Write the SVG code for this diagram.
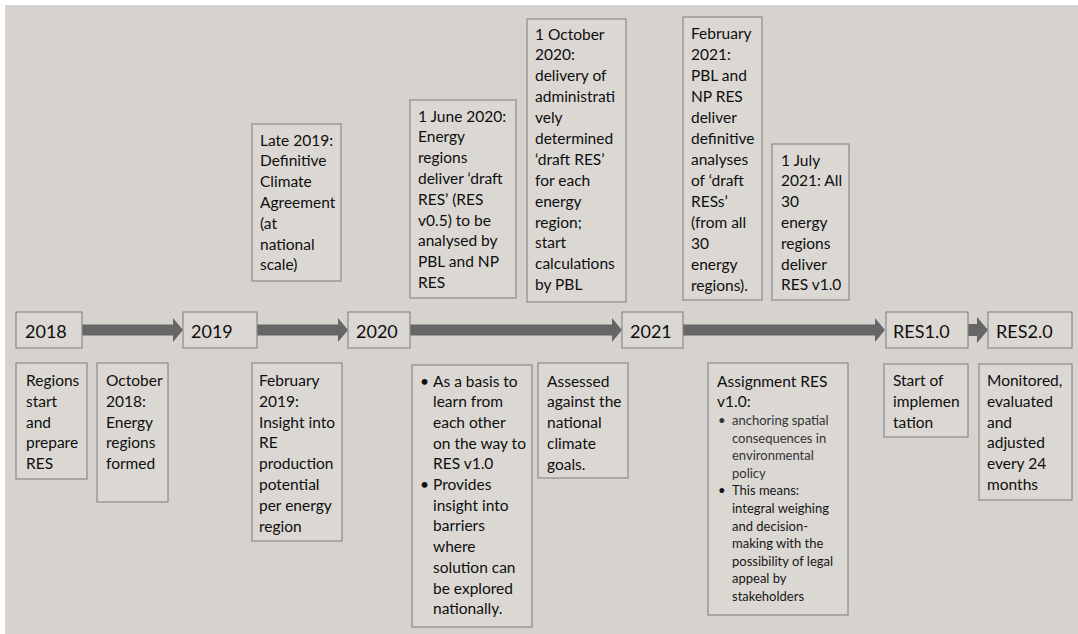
<svg xmlns="http://www.w3.org/2000/svg" width="1078" height="634" viewBox="0 0 1078 634">
<style>
.box{fill:#dbd8d4;stroke:#8a8a8a;stroke-width:1.2}
.t{font-family:Lato,"Liberation Sans",sans-serif;font-size:15.5px;fill:#0e0e0e}
.y{font-family:Lato,"Liberation Sans",sans-serif;font-size:18px;fill:#0e0e0e}
.s{font-family:Lato,"Liberation Sans",sans-serif;font-size:13px;fill:#161616}
.arr{fill:#666666}
</style>
<rect x="0" y="0" width="1078" height="634" fill="#ffffff"/>
<rect x="5" y="5" width="1073" height="629" fill="#d6d3cf"/>
<g id="connectors">
<polygon class="arr" points="82,324.5 173,324.5 173,318 183,330 173,342 173,335.5 82,335.5"/>
<polygon class="arr" points="257,324.5 338,324.5 338,318 348,330 338,342 338,335.5 257,335.5"/>
<polygon class="arr" points="410,324.5 612,324.5 612,318 622,330 612,342 612,335.5 410,335.5"/>
<polygon class="arr" points="683,324.5 875,324.5 875,318 885,330 875,342 875,335.5 683,335.5"/>
<polygon class="arr" points="968,324 977,324 977,317 988,330 977,343 977,336 968,336"/>
</g>
<g id="y2018"><rect class="box" x="16" y="312" width="66" height="36"/><text class="y" x="25" y="337.5">2018</text></g>
<g id="y2019"><rect class="box" x="183" y="312" width="74" height="36"/><text class="y" x="191" y="337.5">2019</text></g>
<g id="y2020"><rect class="box" x="348" y="312" width="62" height="36"/><text class="y" x="356" y="337.5">2020</text></g>
<g id="y2021"><rect class="box" x="622" y="312" width="61" height="36"/><text class="y" x="630" y="337.5">2021</text></g>
<g id="res10"><rect class="box" x="886" y="312" width="82" height="36"/><text class="y" x="893" y="337.5">RES1.0</text></g>
<g id="res20"><rect class="box" x="988" y="312" width="84" height="36"/><text class="y" x="996" y="337.5">RES2.0</text></g>

<g id="late2019"><rect class="box" x="252" y="124" width="89" height="157"/>
<text class="t" x="260" y="145.5"><tspan x="260">Late 2019:</tspan><tspan x="260" dy="20.8">Definitive</tspan><tspan x="260" dy="20.8">Climate</tspan><tspan x="260" dy="20.8">Agreement</tspan><tspan x="260" dy="20.8">(at</tspan><tspan x="260" dy="20.8">national</tspan><tspan x="260" dy="20.8">scale)</tspan></text></g>

<g id="june2020"><rect class="box" x="410" y="100" width="106" height="198"/>
<text class="t" x="418" y="121.5"><tspan x="418">1 June 2020:</tspan><tspan x="418" dy="20.8">Energy</tspan><tspan x="418" dy="20.8">regions</tspan><tspan x="418" dy="20.8">deliver ‘draft</tspan><tspan x="418" dy="20.8">RES’ (RES</tspan><tspan x="418" dy="20.8">v0.5) to be</tspan><tspan x="418" dy="20.8">analysed by</tspan><tspan x="418" dy="20.8">PBL and NP</tspan><tspan x="418" dy="20.8">RES</tspan></text></g>

<g id="oct2020"><rect class="box" x="527" y="19" width="99" height="283"/>
<text class="t" x="535" y="39.5"><tspan x="535">1 October</tspan><tspan x="535" dy="20.9">2020:</tspan><tspan x="535" dy="20.9">delivery of</tspan><tspan x="535" dy="20.9">administrati</tspan><tspan x="535" dy="20.9">vely</tspan><tspan x="535" dy="20.9">determined</tspan><tspan x="535" dy="20.9">‘draft RES’</tspan><tspan x="535" dy="20.9">for each</tspan><tspan x="535" dy="20.9">energy</tspan><tspan x="535" dy="20.9">region;</tspan><tspan x="535" dy="20.9">start</tspan><tspan x="535" dy="20.9">calculations</tspan><tspan x="535" dy="20.9">by PBL</tspan></text></g>

<g id="feb2021"><rect class="box" x="683" y="17" width="79" height="283"/>
<text class="t" x="691" y="38.5"><tspan x="691">February</tspan><tspan x="691" dy="21">2021:</tspan><tspan x="691" dy="21">PBL and</tspan><tspan x="691" dy="21">NP RES</tspan><tspan x="691" dy="21">deliver</tspan><tspan x="691" dy="21">definitive</tspan><tspan x="691" dy="21">analyses</tspan><tspan x="691" dy="21">of ‘draft</tspan><tspan x="691" dy="21">RESs’</tspan><tspan x="691" dy="21">(from all</tspan><tspan x="691" dy="21">30</tspan><tspan x="691" dy="21">energy</tspan><tspan x="691" dy="21">regions).</tspan></text></g>

<g id="jul2021"><rect class="box" x="772" y="144" width="77" height="156"/>
<text class="t" x="781" y="165.5"><tspan x="781">1 July</tspan><tspan x="781" dy="20.8">2021: All</tspan><tspan x="781" dy="20.8">30</tspan><tspan x="781" dy="20.8">energy</tspan><tspan x="781" dy="20.8">regions</tspan><tspan x="781" dy="20.8">deliver</tspan><tspan x="781" dy="20.8">RES v1.0</tspan></text></g>

<g id="regions"><rect class="box" x="16" y="363" width="71" height="116"/>
<text class="t" x="26" y="386"><tspan x="26">Regions</tspan><tspan x="26" dy="20.8">start</tspan><tspan x="26" dy="20.8">and</tspan><tspan x="26" dy="20.8">prepare</tspan><tspan x="26" dy="20.8">RES</tspan></text></g>

<g id="oct2018"><rect class="box" x="97" y="363" width="71" height="139"/>
<text class="t" x="106" y="386"><tspan x="106">October</tspan><tspan x="106" dy="20.8">2018:</tspan><tspan x="106" dy="20.8">Energy</tspan><tspan x="106" dy="20.8">regions</tspan><tspan x="106" dy="20.8">formed</tspan></text></g>

<g id="feb2019"><rect class="box" x="252" y="363" width="90" height="178"/>
<text class="t" x="259" y="386"><tspan x="259">February</tspan><tspan x="259" dy="20.8">2019:</tspan><tspan x="259" dy="20.8">Insight into</tspan><tspan x="259" dy="20.8">RE</tspan><tspan x="259" dy="20.8">production</tspan><tspan x="259" dy="20.8">potential</tspan><tspan x="259" dy="20.8">per energy</tspan><tspan x="259" dy="20.8">region</tspan></text></g>

<g id="basis"><rect class="box" x="412" y="365" width="120" height="262"/>
<text class="t" x="420" y="386.5"><tspan x="420">•</tspan><tspan x="433">As a basis to</tspan><tspan x="433" dy="20.7">learn from</tspan><tspan x="433" dy="20.7">each other</tspan><tspan x="433" dy="20.7">on the way to</tspan><tspan x="433" dy="20.7">RES v1.0</tspan><tspan x="420" dy="20.7">•</tspan><tspan x="433">Provides</tspan><tspan x="433" dy="20.7">insight into</tspan><tspan x="433" dy="20.7">barriers</tspan><tspan x="433" dy="20.7">where</tspan><tspan x="433" dy="20.7">solution can</tspan><tspan x="433" dy="20.7">be explored</tspan><tspan x="433" dy="20.7">nationally.</tspan></text></g>

<g id="assessed"><rect class="box" x="538" y="363" width="90" height="115"/>
<text class="t" x="547" y="386.5"><tspan x="547">Assessed</tspan><tspan x="547" dy="20.8">against the</tspan><tspan x="547" dy="20.8">national</tspan><tspan x="547" dy="20.8">climate</tspan><tspan x="547" dy="20.8">goals.</tspan></text></g>

<g id="assignment"><rect class="box" x="708" y="363" width="140" height="252"/>
<text class="t" x="717" y="386.5"><tspan x="717">Assignment RES</tspan><tspan x="717" dy="20.8">v1.0:</tspan></text>
<text class="s" x="718" y="425"><tspan x="718" fill="#333333">•</tspan><tspan x="732" fill="#333333">anchoring spatial</tspan><tspan x="732" dy="17.6" fill="#333333">consequences in</tspan><tspan x="732" dy="17.6" fill="#333333">environmental</tspan><tspan x="732" dy="17.6" fill="#333333">policy</tspan><tspan x="718" dy="17.6">•</tspan><tspan x="732">This means:</tspan><tspan x="732" dy="17.6">integral weighing</tspan><tspan x="732" dy="17.6">and decision-</tspan><tspan x="732" dy="17.6">making with the</tspan><tspan x="732" dy="17.6">possibility of legal</tspan><tspan x="732" dy="17.6">appeal by</tspan><tspan x="732" dy="17.6">stakeholders</tspan></text></g>

<g id="start"><rect class="box" x="884" y="364" width="84" height="73"/>
<text class="t" x="893" y="386"><tspan x="893">Start of</tspan><tspan x="893" dy="20.8">implemen</tspan><tspan x="893" dy="20.8">tation</tspan></text></g>

<g id="monitored"><rect class="box" x="979" y="364" width="93" height="136"/>
<text class="t" x="987" y="386"><tspan x="987">Monitored,</tspan><tspan x="987" dy="20.8">evaluated</tspan><tspan x="987" dy="20.8">and</tspan><tspan x="987" dy="20.8">adjusted</tspan><tspan x="987" dy="20.8">every 24</tspan><tspan x="987" dy="20.8">months</tspan></text></g>
</svg>
